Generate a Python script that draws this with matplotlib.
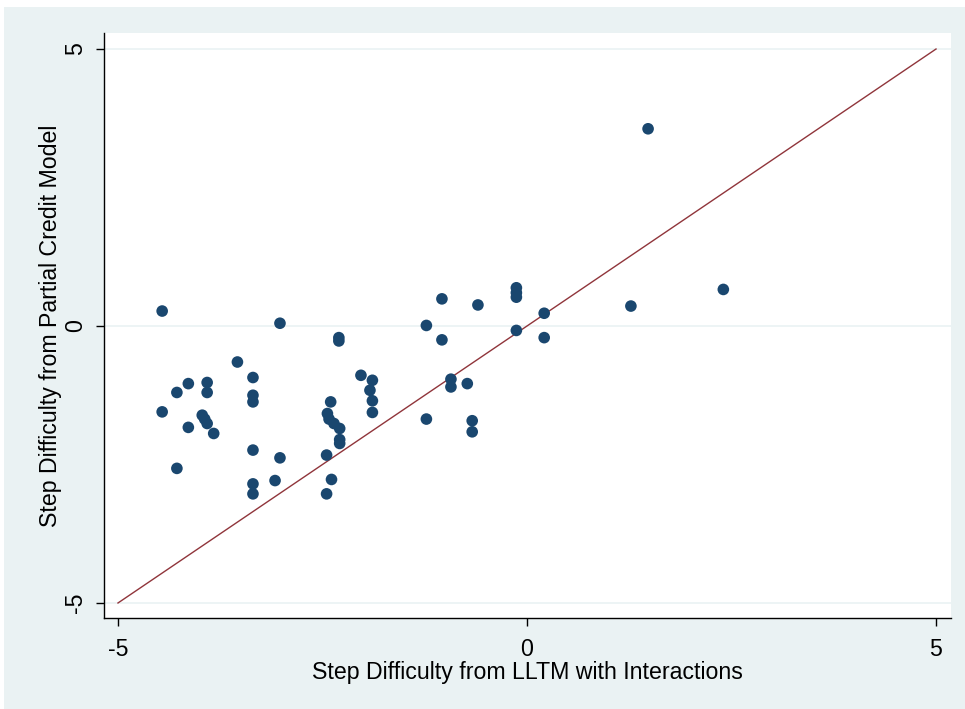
import matplotlib
matplotlib.use("Agg")
import matplotlib.pyplot as plt
from matplotlib.patches import Rectangle

x_lltm = [
    -4.46, -3.02, -3.54, -3.35, -4.14, -3.91, -3.91, -4.28, -3.35, -3.35,
    -4.46, -3.97, -3.94, -3.91, -4.14, -3.83, -3.35, -3.02, -4.28, -3.08,
    -3.35, -3.35,
    -2.30, -2.30, -2.03, -1.89, -1.92, -1.89, -1.89, -2.40, -2.44, -2.42,
    -2.36, -2.29, -2.29, -2.29, -2.45, -2.39, -2.45,
    -1.04, -0.60, -0.13, -0.13, -0.13, -1.23, -1.04, -0.13, 0.21, 0.21,
    -0.93, -0.93, -0.73, -1.23, -0.67, -0.67,
    1.48, 1.27, 2.40,
]
y_pcm = [
    0.27, 0.05, -0.65, -0.93, -1.04, -1.02, -1.20, -1.20, -1.25, -1.37,
    -1.55, -1.61, -1.68, -1.76, -1.83, -1.94, -2.24, -2.38, -2.57, -2.79,
    -2.85, -3.03,
    -0.21, -0.27, -0.89, -0.98, -1.16, -1.35, -1.56, -1.37, -1.58, -1.68,
    -1.76, -1.85, -2.05, -2.12, -2.33, -2.77, -3.03,
    0.49, 0.38, 0.69, 0.60, 0.52, 0.01, -0.25, -0.08, 0.23, -0.21,
    -0.96, -1.10, -1.04, -1.68, -1.71, -1.91,
    3.56, 0.36, 0.66,
]
line_x = [-5, 5]
line_y = [-5, 5]
ticks = [-5, 0, 5]
xlabel = "Step Difficulty from LLTM with Interactions"
ylabel = "Step Difficulty from Partial Credit Model"

plt.rcParams['font.family'] = ['Liberation Sans', 'DejaVu Sans']
FS = 16.7

W, H = 965, 709
fig = plt.figure(figsize=(W / 100, H / 100), dpi=100)
fig.patch.set_facecolor('white')
fig.patches.append(Rectangle((4 / W, 0), 1 - 4 / W, 1 - 7 / H, transform=fig.transFigure,
                             facecolor='#EAF2F3', edgecolor='none', zorder=0))

ax = fig.add_axes([104 / W, 1 - 618 / H, (951 - 104) / W, (618 - 33) / H])
ax.set_zorder(2)
ax.set_facecolor('white')
ax.set_xlim(-5.171, 5.183)
ax.set_ylim(-5.271, 5.289)

for t in ticks:
    ax.axhline(t, color='#EAF2F3', lw=1.2, zorder=1)

ax.plot(line_x, line_y, color='#90353B', lw=1.0, zorder=2)
ax.scatter(x_lltm, y_pcm, s=70, color='#1A476F', edgecolors='none', zorder=3)

for s in ['top', 'right']:
    ax.spines[s].set_visible(False)
for s in ['left', 'bottom']:
    ax.spines[s].set_color('black')
    ax.spines[s].set_linewidth(1.0)

ax.set_xticks(ticks)
ax.set_yticks(ticks)
ax.set_xticklabels([str(t) for t in ticks])
ax.set_yticklabels([str(t) for t in ticks], rotation=90, va='center')
ax.tick_params(axis='both', direction='out', length=5.8, width=1, colors='black',
               labelsize=FS)
ax.tick_params(axis='x', pad=8.6)
ax.tick_params(axis='y', pad=6.5)
ax.set_xlabel(xlabel, fontsize=FS, labelpad=0)
ax.set_ylabel(ylabel, fontsize=FS, labelpad=1.5)

fig.savefig('out.png', dpi=100, facecolor=fig.get_facecolor())
